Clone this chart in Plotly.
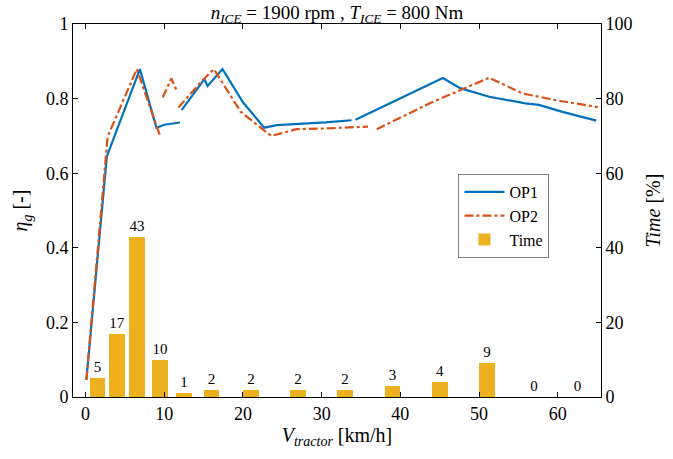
import plotly.graph_objects as go

# Operating-point efficiency curves (None marks a break in the line)
op1_v = [0.1, 2.7, 6.9, 9.0, 10.0, 12.0, None,
         12.2, 15.1, 15.5, 17.4, 20.0, 22.7, 24.3, 26.8, 30.5, 33.8, None,
         34.3, 40.0, 45.4, 47.6, 51.3, 55.9, 57.6, 60.5, 64.9]
op1_eta = [0.046, 0.645, 0.879, 0.722, 0.730, 0.736, None,
           0.769, 0.852, 0.834, 0.879, 0.790, 0.722, 0.729, 0.732, 0.736, 0.742, None,
           0.743, 0.800, 0.855, 0.828, 0.805, 0.787, 0.783, 0.765, 0.741]

op2_v = [0.1, 2.8, 6.5, 9.5, None,
         9.8, 10.9, 11.6, None,
         11.8, 14.9, 16.3, 19.7, 22.6, 23.6, 24.7, 26.8, 30.5, 35.9, None,
         37.0, 44.0, 51.3, 55.5, 59.7, 65.1]
op2_eta = [0.046, 0.698, 0.879, 0.698, None,
           0.803, 0.854, 0.820, None,
           0.776, 0.850, 0.879, 0.765, 0.716, 0.700, 0.706, 0.718, 0.720, 0.725, None,
           0.718, 0.790, 0.856, 0.814, 0.796, 0.777]

# Share of driving time per speed bin
time_v = [1.5, 4, 6.5, 9.5, 12.5, 16, 21, 27, 33, 39, 45, 51, 57, 62.5]
time_pct = [5, 17, 43, 10, 1, 2, 2, 2, 2, 3, 4, 9, 0, 0]

x_ticks = [0, 10, 20, 30, 40, 50, 60]
eta_ticks = [0, 0.2, 0.4, 0.6, 0.8, 1]
eta_labels = ["0", "0.2", "0.4", "0.6", "0.8", "1"]
pct_ticks = [0, 20, 40, 60, 80, 100]

SERIF = "Liberation Serif, Times New Roman, serif"
BLUE = "#0072BD"
ORANGE = "#D95319"
GOLD = "#EDB120"

fig = go.Figure()

fig.add_trace(go.Bar(
    x=time_v, y=time_pct, width=2, name="Time",
    marker=dict(color=GOLD, line=dict(width=0)),
    text=[str(t) for t in time_pct], textposition="outside",
    textfont=dict(family=SERIF, size=15, color="black"),
    cliponaxis=False, yaxis="y", legendrank=3,
))

fig.add_trace(go.Scatter(
    x=op1_v, y=op1_eta, mode="lines", name="OP1",
    line=dict(color=BLUE, width=2.2), connectgaps=False,
    yaxis="y2", legendrank=1,
))
fig.add_trace(go.Scatter(
    x=op2_v, y=op2_eta, mode="lines", name="OP2",
    line=dict(color=ORANGE, width=2.2, dash="dashdot"), connectgaps=False,
    yaxis="y2", legendrank=2,
))

axis_common = dict(
    showline=True, linecolor="black", linewidth=1,
    ticks="inside", ticklen=5, tickcolor="black",
    showgrid=False, zeroline=False,
    tickfont=dict(family=SERIF, size=18, color="black"),
)
label_font = dict(family=SERIF, size=20, color="black")

fig.update_layout(
    width=673, height=459,
    margin=dict(l=73, r=63, t=24, b=62),
    plot_bgcolor="white", paper_bgcolor="white",
    bargap=0,
    title=dict(
        text="<i>n</i><sub><i>ICE</i></sub> = 1900 rpm , <i>T</i><sub><i>ICE</i></sub> = 800 Nm",
        font=dict(family=SERIF, size=19, color="black"),
        x=0.5, xref="paper", y=1, yref="paper", yanchor="bottom",
        pad=dict(b=5),
    ),
    xaxis=dict(
        range=[-1.6, 65.5], tickvals=x_ticks, mirror="ticks",
        title=dict(text="<i>V</i><sub><i>tractor</i></sub> [km/h]",
                   font=label_font, standoff=4),
        **axis_common,
    ),
    yaxis=dict(
        range=[0, 100], tickvals=pct_ticks, side="right",
        title=dict(text="<i>Time</i> [%]", font=label_font, standoff=14),
        **axis_common,
    ),
    yaxis2=dict(
        range=[0, 1], tickvals=eta_ticks, ticktext=eta_labels,
        overlaying="y", side="left",
        title=dict(text="<i>η</i><sub><i>g</i></sub> [-]", font=label_font, standoff=12),
        **axis_common,
    ),
    legend=dict(
        x=0.73, y=0.598, xanchor="left", yanchor="top",
        bgcolor="white", bordercolor="#808080", borderwidth=1,
        font=dict(family=SERIF, size=16, color="black"),
        itemwidth=40, tracegroupgap=0,
    ),
    showlegend=True,
)

fig.write_html("out.html")
